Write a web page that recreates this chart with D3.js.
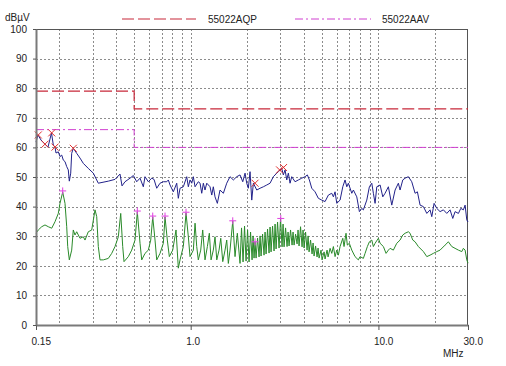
<!DOCTYPE html>
<html><head><meta charset="utf-8">
<script src="https://cdn.jsdelivr.net/npm/d3@7"></script>
<style>
body{margin:0;background:#fff}
text{font-family:"Liberation Sans",Arial,sans-serif;font-size:10px;fill:#222}
</style>
</head><body><svg id="c" width="506" height="366"></svg>
<script>
// ---- data ----
const yTicks=[0,10,20,30,40,50,60,70,80,90,100];
const gridLevels=[10,20,30,40,50,60,70,80,90];
const xTickValues=[0.15,1,10,30];
const xTickLabels=["0.15","1.0","10.0","30.0"];
const gridFreqs=[0.2,0.3,0.4,0.5,0.6,0.7,0.8,0.9,1,2,3,4,5,6,7,8,9,10,20];
const seriesNames=["55022AQP","55022AAV"];
const limitQP=[[0.15,79],[0.5,79],[0.5,73],[30,73]];
const limitAV=[[0.15,66],[0.5,66],[0.5,60],[30,60]];
const blueTrace=[[0.150,61.8],[0.1537,64.2],[0.1595,62.5],[0.1675,61.1],[0.1738,60.1],[0.1814,64.9],[0.1855,60.8],[0.1894,60.1],[0.1917,58.1],[0.1972,58.5],[0.2013,56.9],[0.2056,57.4],[0.2097,55.7],[0.2141,55.2],[0.2186,53.5],[0.2229,52.4],[0.2257,48.6],[0.2296,51.3],[0.2324,58.0],[0.2370,59.7],[0.2471,58.0],[0.2573,56.4],[0.2680,54.6],[0.2849,52.9],[0.3029,51.3],[0.3221,47.9],[0.3641,48.6],[0.3953,49.2],[0.4203,51.0],[0.4308,47.0],[0.4469,48.4],[0.4752,49.6],[0.4949,50.5],[0.5159,48.4],[0.5373,49.6],[0.5594,46.7],[0.5712,50.1],[0.5948,48.4],[0.6202,49.6],[0.6379,49.2],[0.6594,46.2],[0.6866,47.9],[0.7150,48.4],[0.7454,48.4],[0.7602,49.0],[0.7762,47.3],[0.8083,45.0],[0.8427,47.9],[0.8594,42.8],[0.8775,46.2],[0.9138,46.7],[0.9527,50.1],[0.9716,46.7],[0.9920,49.0],[1.013,47.9],[1.033,50.1],[1.055,46.7],[1.098,48.4],[1.122,47.9],[1.145,44.5],[1.168,47.9],[1.192,45.6],[1.218,47.9],[1.268,46.7],[1.295,43.9],[1.320,46.7],[1.348,43.3],[1.387,41.1],[1.433,45.6],[1.493,44.5],[1.556,47.9],[1.620,50.1],[1.688,49.0],[1.759,50.1],[1.832,50.7],[1.894,48.4],[1.948,51.3],[1.989,47.9],[2.028,46.2],[2.071,51.8],[2.115,42.2],[2.157,47.9],[2.249,45.6],[2.342,46.2],[2.438,46.7],[2.542,47.3],[2.647,47.9],[2.756,50.1],[2.874,51.3],[2.931,51.8],[3.055,52.9],[3.116,50.7],[3.182,52.4],[3.249,49.0],[3.313,51.3],[3.383,47.9],[3.454,50.1],[3.597,48.4],[3.746,49.0],[3.905,49.6],[4.067,50.1],[4.183,50.7],[4.287,49.0],[4.415,46.2],[4.597,45.0],[4.787,42.8],[4.991,42.2],[5.198,41.7],[5.413,43.9],[5.643,44.5],[5.755,43.3],[5.876,45.0],[6.000,41.1],[6.248,42.2],[6.459,46.7],[6.642,49.0],[6.784,46.7],[6.917,47.9],[7.213,44.5],[7.356,45.6],[7.668,43.3],[7.917,38.3],[8.153,39.4],[8.314,38.9],[8.670,42.2],[8.951,46.7],[9.218,47.9],[9.400,44.5],[9.599,41.1],[9.801,46.7],[10.21,47.3],[10.55,43.3],[10.85,44.5],[11.30,46.7],[11.78,40.5],[12.27,45.6],[12.77,47.9],[13.04,45.6],[13.48,49.0],[13.87,49.6],[14.44,50.1],[15.05,48.4],[15.68,44.5],[16.13,45.0],[16.67,40.5],[17.36,40.0],[18.10,37.7],[18.84,38.9],[19.24,36.6],[19.79,41.1],[20.46,39.4],[21.30,38.3],[22.18,38.9],[23.13,37.7],[24.08,38.9],[24.89,36.0],[25.60,38.3],[26.67,37.7],[27.46,39.4],[28.35,38.9],[28.95,40.5],[29.56,35.5],[30.0,34.8]];
const greenTrace=[[0.150,31.0],[0.1543,32.1],[0.1609,33.2],[0.1675,33.8],[0.1744,33.2],[0.1819,32.7],[0.1894,34.9],[0.1972,37.7],[0.2013,41.1],[0.2081,44.9],[0.2141,41.1],[0.2186,33.2],[0.2213,26.5],[0.2257,22.0],[0.2324,25.3],[0.2370,32.1],[0.2420,30.4],[0.2471,31.5],[0.2573,29.3],[0.2680,29.8],[0.2736,28.7],[0.2849,31.5],[0.2971,32.1],[0.3093,38.9],[0.3159,36.6],[0.3221,26.5],[0.3289,22.0],[0.3425,22.0],[0.3641,22.5],[0.3797,24.2],[0.3953,26.5],[0.4117,29.8],[0.4240,37.7],[0.4345,26.5],[0.4415,21.4],[0.4654,23.1],[0.4852,25.3],[0.4949,27.0],[0.5053,28.7],[0.5197,38.2],[0.5373,27.6],[0.5486,22.0],[0.5712,24.2],[0.5948,25.3],[0.6126,28.7],[0.6278,36.5],[0.6458,28.7],[0.6594,22.0],[0.6866,24.2],[0.7150,27.6],[0.7300,36.5],[0.7509,28.7],[0.7696,23.1],[0.8023,25.3],[0.8355,32.1],[0.8594,19.2],[0.8775,22.0],[0.9138,26.5],[0.9445,37.8],[0.9716,29.8],[0.9920,23.1],[1.033,25.3],[1.055,34.4],[1.077,26.5],[1.098,22.0],[1.131,25.3],[1.159,32.1],[1.192,22.0],[1.227,26.5],[1.257,31.0],[1.284,22.0],[1.320,25.3],[1.348,29.8],[1.377,22.0],[1.416,25.3],[1.446,29.3],[1.482,21.4],[1.524,25.3],[1.556,28.7],[1.587,20.8],[1.620,25.3],[1.675,35.1],[1.723,23.1],[1.772,31.0],[1.832,20.8],[1.866,32.8],[1.901,21.3],[1.936,33.4],[1.972,21.6],[2.009,32.1],[2.046,21.3],[2.084,31.4],[2.123,22.0],[2.149,30.1],[2.175,22.6],[2.202,28.1],[2.230,22.6],[2.271,29.4],[2.313,23.0],[2.342,30.1],[2.371,23.3],[2.415,30.7],[2.459,23.6],[2.490,31.4],[2.521,24.0],[2.567,32.4],[2.615,24.3],[2.647,33.1],[2.680,24.7],[2.730,33.4],[2.780,25.0],[2.815,34.1],[2.850,25.7],[2.902,34.8],[2.956,26.0],[3.011,36.0],[3.067,26.4],[3.105,34.1],[3.143,26.4],[3.202,32.8],[3.261,26.5],[3.301,31.4],[3.342,26.7],[3.404,32.1],[3.468,27.0],[3.510,31.4],[3.554,27.0],[3.620,30.7],[3.687,27.4],[3.732,32.1],[3.778,26.7],[3.849,33.2],[3.920,26.4],[3.968,32.1],[4.018,26.0],[4.092,31.4],[4.168,25.3],[4.220,30.1],[4.272,24.7],[4.351,28.7],[4.432,24.0],[4.487,27.7],[4.542,23.3],[4.626,26.7],[4.712,23.0],[4.770,26.0],[4.829,22.6],[4.949,25.3],[5.010,22.0],[5.135,24.7],[5.198,22.3],[5.327,25.3],[5.393,23.0],[5.527,25.9],[5.643,24.2],[5.755,26.5],[5.876,23.1],[6.000,25.3],[6.118,23.6],[6.248,26.5],[6.459,29.3],[6.559,26.5],[6.721,31.0],[6.830,27.0],[6.999,27.6],[7.213,25.3],[7.506,23.1],[7.817,22.0],[7.982,23.1],[8.314,22.5],[8.489,24.2],[8.732,26.5],[8.951,28.1],[9.218,28.7],[9.400,26.5],[9.599,27.6],[9.995,29.3],[10.21,27.6],[10.63,26.5],[10.98,24.2],[11.30,25.3],[11.54,25.9],[12.01,25.3],[12.52,27.6],[13.04,28.7],[13.48,30.4],[13.87,31.0],[14.44,31.5],[14.74,31.0],[15.24,28.7],[15.68,28.1],[16.32,26.5],[17.36,24.8],[18.10,23.1],[18.84,23.6],[19.62,24.2],[20.46,24.8],[21.30,25.3],[22.65,27.0],[23.58,28.1],[24.59,26.5],[25.60,25.9],[26.67,25.3],[27.80,24.8],[28.35,25.9],[28.95,25.3],[29.56,22.0],[30.0,20.9]];
const qpMarks=[[0.1543,64.2],[0.1675,61.1],[0.1819,64.9],[0.1894,60.1],[0.2370,59.7],[2.202,47.9],[2.975,52.4],[3.124,53.2]];
const avMarks=[[0.2081,45.3],[0.5197,38.5],[0.6278,36.8],[0.7300,36.8],[0.9445,38.1],[1.675,35.2],[2.202,28.1],[3.019,36.0]];

// ---- drawing ----
const svg=d3.select("#c");
svg.append("rect").attr("width",506).attr("height",366).attr("fill","#fff");
const x=d3.scaleLog().domain([0.15,30]).range([36,468]);
const y=d3.scaleLinear().domain([0,100]).range([325,29]);

const grid=svg.append("g").attr("stroke","#8c8c8c").attr("stroke-dasharray","2,2").attr("shape-rendering","crispEdges");
grid.selectAll("line.h").data(gridLevels).join("line")
  .attr("x1",x(0.15)).attr("x2",x(30)).attr("y1",d=>Math.round(y(d))+0.5).attr("y2",d=>Math.round(y(d))+0.5);
grid.selectAll("line.v").data(gridFreqs).join("line")
  .attr("y1",y(100)).attr("y2",y(0)).attr("x1",d=>Math.round(x(d))+0.5).attr("x2",d=>Math.round(x(d))+0.5);

// frame top/right
svg.append("rect").attr("x",x(0.15)).attr("y",y(100)+0.5).attr("width",x(30)-x(0.15)-0.5).attr("height",y(0)-y(100))
  .attr("fill","none").attr("stroke","#555").attr("stroke-width",1).attr("shape-rendering","crispEdges");

// limit lines
const lineGen=d3.line().x(d=>x(d[0])).y(d=>y(d[1]));
svg.append("path").attr("d",lineGen(limitQP)).attr("fill","none").attr("stroke","#c8283a").attr("stroke-width",1.2).attr("stroke-dasharray","12,4");
svg.append("path").attr("d",lineGen(limitAV)).attr("fill","none").attr("stroke","#d040d0").attr("stroke-width",1).attr("stroke-dasharray","8,3,2,3");

// traces
svg.append("path").attr("d",lineGen(greenTrace)).attr("fill","none").attr("stroke","#2a8a2a").attr("stroke-width",1);
svg.append("path").attr("d",lineGen(blueTrace)).attr("fill","none").attr("stroke","#22228a").attr("stroke-width",1);

// markers
const ms=3.5;
svg.append("g").selectAll("path").data(qpMarks).join("path")
  .attr("d",d=>{const cx=x(d[0]),cy=y(d[1]);return `M${cx-ms},${cy-ms}L${cx+ms},${cy+ms}M${cx-ms},${cy+ms}L${cx+ms},${cy-ms}`;})
  .attr("stroke","#e03030").attr("stroke-width",1).attr("fill","none");
svg.append("g").selectAll("path").data(avMarks).join("path")
  .attr("d",d=>{const cx=x(d[0]),cy=y(d[1]);return `M${cx-ms},${cy}L${cx+ms},${cy}M${cx},${cy-ms}L${cx},${cy+ms}`;})
  .attr("stroke","#e040e0").attr("stroke-width",1).attr("fill","none");

// axes
const ax=svg.append("g").attr("transform",`translate(0,${y(0)})`)
  .call(d3.axisBottom(x).tickValues(xTickValues).tickFormat((d,i)=>xTickLabels[i]).tickSize(5).tickSizeOuter(0).tickPadding(8));
ax.select(".domain").attr("stroke","#7a7a7a").attr("stroke-width",2);
ax.selectAll(".tick line").attr("stroke","#555");
ax.selectAll(".tick text").attr("text-anchor","start").attr("dx",-5).attr("font-size",10).attr("font-family","Liberation Sans, Arial, sans-serif").attr("fill","#222");
const ay=svg.append("g").attr("transform",`translate(${x(0.15)},0)`)
  .call(d3.axisLeft(y).tickValues(yTicks).tickFormat(d3.format("d")).tickSize(3).tickSizeOuter(0).tickPadding(6));
ay.select(".domain").attr("stroke","#7a7a7a").attr("stroke-width",2);
ay.selectAll(".tick line").attr("stroke","#555");
ay.selectAll(".tick text").attr("font-size",10).attr("font-family","Liberation Sans, Arial, sans-serif").attr("fill","#222");

// titles & legend
svg.append("text").attr("x",5).attr("y",21).text("dBµV");
svg.append("text").attr("x",443).attr("y",357).text("MHz");
svg.append("line").attr("x1",122).attr("x2",196).attr("y1",19).attr("y2",19).attr("stroke","#c8283a").attr("stroke-width",1.2).attr("stroke-dasharray","12,4");
svg.append("text").attr("x",208).attr("y",23).text(seriesNames[0]);
svg.append("line").attr("x1",295).attr("x2",371).attr("y1",19).attr("y2",19).attr("stroke","#d040d0").attr("stroke-dasharray","8,3,2,3");
svg.append("text").attr("x",382).attr("y",23).text(seriesNames[1]);
</script></body></html>
